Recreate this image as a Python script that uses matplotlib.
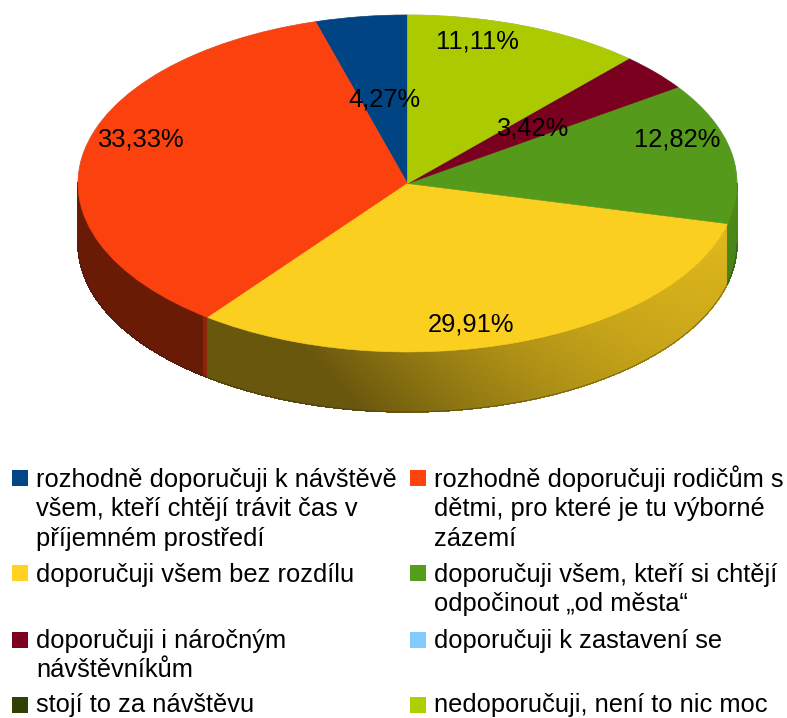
import matplotlib
matplotlib.use("Agg")
import matplotlib.pyplot as plt
from matplotlib.collections import PolyCollection
from matplotlib.colors import to_rgb
from matplotlib.patches import Rectangle
import numpy as np

plt.rcParams['font.family'] = ['Liberation Sans', 'DejaVu Sans']

categories = [
    "rozhodně doporučuji k návštěvě\nvšem, kteří chtějí trávit čas v\npříjemném prostředí",
    "rozhodně doporučuji rodičům s\ndětmi, pro které je tu výborné\nzázemí",
    "doporučuji všem bez rozdílu",
    "doporučuji všem, kteří si chtějí\nodpočinout „od města“",
    "doporučuji i náročným\nnávštěvníkům",
    "doporučuji k zastavení se",
    "stojí to za návštěvu",
    "nedoporučuji, není to nic moc",
]
values = [4.27, 33.33, 29.91, 12.82, 3.42, 0, 0, 11.11]
colors = ["#004586", "#ff420e", "#ffd320", "#579d1c", "#7e0021", "#83caff", "#314004", "#aecf00"]
value_labels = ["4,27%", "33,33%", "29,91%", "12,82%", "3,42%", "", "", "11,11%"]

# layout, in pixels of the reference
W, H = 787, 718
CX, CY, RX, RY = 407.5, 183.5, 329.5, 168.5
DEPTH = 60 / RY
label_pos = [(384.5, 100), (140, 139.5), (471, 324.5), (677, 139.5), (532, 128.5), None, None, (477, 41.5)]
# swatch x, swatch top, baseline of first line
legend_pos = [(12, 470, 487), (410, 470, 487), (12, 565, 582), (410, 565, 582),
              (12, 632, 648), (410, 632, 648), (12, 697, 712), (410, 697, 712)]
LINE_H = 29.3
FONT = 18.4

# brightness of the side wall, by pixel x
shade_x = [78, 207, 300, 400, 500, 600, 700, 727, 737]
shade_k = [.41, .41, .41, .55, .68, .78, .85, .88, .75]

fig = plt.figure(figsize=(W / 100, H / 100), dpi=100)
ax = fig.add_axes([0, 0, 1, 1])
wedges, _ = ax.pie(values, colors=colors, startangle=90, counterclock=True,
                   wedgeprops={'linewidth': 0.4, 'zorder': 3})
for w, c in zip(wedges, colors):
    # the top face is a touch darker than the legend swatch
    top_col = np.array(to_rgb(c)) * 0.98
    w.set_facecolor(top_col)
    w.set_edgecolor(top_col)
ax.set_aspect('auto')
ax.set_xlim(-CX / RX, (W - CX) / RX)
ax.set_ylim((CY - H) / RY, CY / RY)
ax.set_axis_off()

# side wall, thin quads per slice
polys, cols = [], []
layers = 8
for w, c in zip(wedges, colors):
    if w.theta2 - w.theta1 <= 0:
        continue
    base = np.array(to_rgb(c))
    angles = np.arange(w.theta1, w.theta2 + 0.4, 0.4)
    angles[-1] = min(angles[-1], w.theta2)
    for a0, a1 in zip(angles[:-1], angles[1:]):
        if np.sin(np.radians((a0 + a1) / 2)) >= 0:
            continue
        x0, x1 = np.cos(np.radians([a0, a1]))
        y0, y1 = np.sin(np.radians([a0, a1]))
        xm = CX + RX * (x0 + x1) / 2
        for i in range(layers):
            t0, t1 = i / layers, (i + 1) / layers
            k = np.interp(xm - 60 * (t0 + t1) / 2, shade_x, shade_k)
            # lighter sliver where the orange wall meets the yellow one
            if xm < CX and w.theta2 - a1 < 0.5:
                k = k * 1.35
            polys.append([(x0, y0 - DEPTH * t0), (x1, y1 - DEPTH * t0),
                          (x1, y1 - DEPTH * t1), (x0, y0 - DEPTH * t1)])
            cols.append(np.clip(base * k, 0, 1))
ax.add_collection(PolyCollection(polys, facecolors=cols, edgecolors='face', linewidths=0.5,
                                 antialiaseds=False, zorder=2))

# thin dark outline around the body
th = np.radians(np.linspace(0, 180, 200))
ax.plot(np.cos(th), np.sin(th), color='#222222', lw=0.6, alpha=0.35, zorder=2.5)
ax.plot(np.cos(-th), np.sin(-th) - DEPTH, color='#222222', lw=0.7, alpha=0.45, zorder=2.5)

# text and legend go on a pixel axes on top
top = fig.add_axes([0, 0, 1, 1])
top.set_xlim(0, W)
top.set_ylim(H, 0)
top.set_axis_off()
top.patch.set_alpha(0)

for txt, pos in zip(value_labels, label_pos):
    if pos:
        top.text(pos[0], pos[1], txt, fontsize=FONT, ha='center', va='center', color='black')

for name, c, (sx, sy, base) in zip(categories, colors, legend_pos):
    top.add_patch(Rectangle((sx, sy), 16, 16, facecolor=c, edgecolor='none'))
    for i, line in enumerate(name.split("\n")):
        top.text(sx + 24, base + i * LINE_H, line, fontsize=FONT, ha='left', va='baseline', color='black')

fig.savefig("out.png", dpi=100)
